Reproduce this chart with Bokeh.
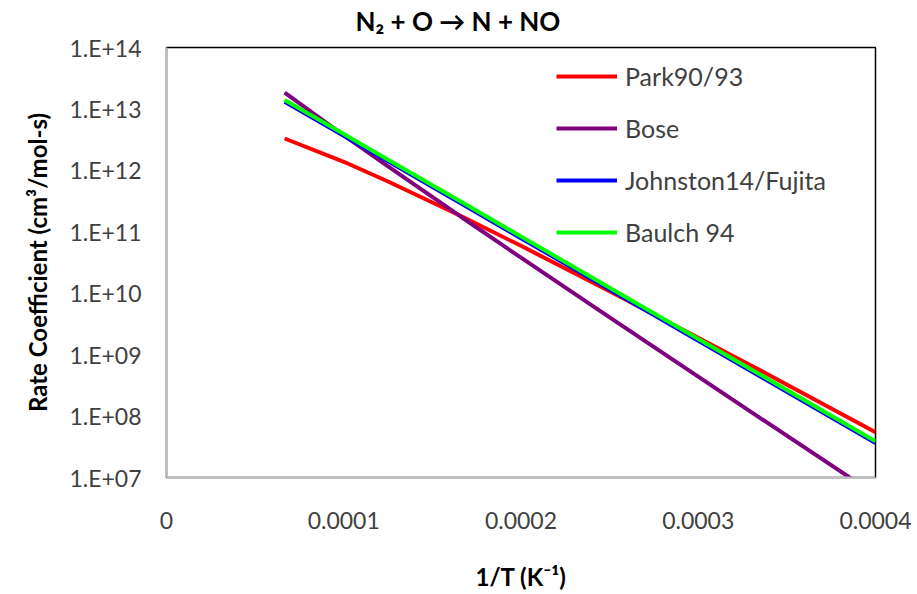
from bokeh.plotting import figure
from bokeh.models import (Range1d, FixedTicker, CustomJSTickFormatter, Legend, LegendItem, Label)
from bokeh.embed import file_html
from bokeh.resources import INLINE

# 1/T values (K^-1), T = 15000, 10000, 8000, 6000, 5000, 4000, 3000, 2500 K
inv_T = [6.667e-5, 1.0e-4, 1.25e-4, 1.667e-4, 2.0e-4, 2.5e-4, 3.333e-4, 4.0e-4]

park90_93 = [3.30e12, 1.38e12, 6.58e11, 1.77e11, 5.91e10, 1.08e10, 5.89e8, 5.47e7]
bose = [1.84e13, 3.72e12, 1.16e12, 1.71e11, 3.79e10, 4.04e9, 1.00e8, 5.27e6]
johnston14_fujita = [1.31e13, 3.64e12, 1.40e12, 2.82e11, 7.86e10, 1.15e10, 4.71e8, 3.65e7]
baulch94 = [1.40e13, 3.90e12, 1.49e12, 3.02e11, 8.40e10, 1.23e10, 5.04e8, 3.90e7]

series_names = ["Park90/93", "Bose", "Johnston14/Fujita", "Baulch 94"]
series_values = [park90_93, bose, johnston14_fujita, baulch94]
series_colors = ["#FF0000", "#800080", "#0000FF", "#00FF00"]

x_ticks = [0, 0.0001, 0.0002, 0.0003, 0.0004]
y_ticks = [1e7, 1e8, 1e9, 1e10, 1e11, 1e12, 1e13, 1e14]

FONT = "Lato"
TICK_COLOR = "#404040"

p = figure(width=917, height=594, output_backend="svg", toolbar_location=None,
           y_axis_type="log",
           x_range=Range1d(0, 0.0004), y_range=Range1d(1e7, 1e14),
           min_border_left=166, min_border_right=42, min_border_top=47, min_border_bottom=117)

p.background_fill_color = "white"
p.border_fill_color = "white"
p.outline_line_color = "black"
p.outline_line_width = 1.5
p.xgrid.visible = False
p.ygrid.visible = False

# chart title, placed in the panel above the frame
title = Label(x=189, y=27, x_units="screen", y_units="screen",
              text="N\u2082 + O \u2192 N + NO", text_align="left", text_baseline="middle",
              text_font=FONT, text_font_size="26px", text_font_style="bold",
              text_color="black")
p.add_layout(title, "above")

items = []
for name, vals, col in zip(series_names, series_values, series_colors):
    r = p.line(inv_T, vals, line_color=col, line_width=4)
    items.append(LegendItem(label=name, renderers=[r]))

legend = Legend(items=items, location=(390, 230), padding=0, margin=0,
                spacing=22, glyph_width=61, glyph_height=30, label_height=30,
                label_standoff=8, label_text_font=FONT, label_text_font_size="25px",
                label_text_color=TICK_COLOR, border_line_color=None,
                background_fill_alpha=0)
p.add_layout(legend, "center")

# axes
for ax in (p.xaxis[0], p.yaxis[0]):
    ax.axis_line_color = "#BFBFBF"
    ax.axis_line_width = 2
    ax.major_tick_line_color = None
    ax.minor_tick_line_color = None
    ax.major_tick_in = 0
    ax.major_tick_out = 0
    ax.major_label_text_font = FONT
    ax.major_label_text_font_size = "23px"
    ax.major_label_text_color = TICK_COLOR
    ax.axis_label_text_font = FONT
    ax.axis_label_text_font_size = "24px"
    ax.axis_label_text_font_style = "bold"
    ax.axis_label_text_color = "black"

p.xaxis.ticker = FixedTicker(ticks=x_ticks)
p.xaxis.formatter = CustomJSTickFormatter(code="return tick == 0 ? '0' : tick.toFixed(4);")
p.xaxis.major_label_standoff = 34
p.xaxis.axis_label = "1/T (K\u207B\u00B9)"
p.xaxis.axis_label_standoff = 30

p.yaxis.ticker = FixedTicker(ticks=y_ticks)
p.yaxis.formatter = CustomJSTickFormatter(
    code="var e = Math.round(Math.log10(tick)); return '1.E+' + (e < 10 ? '0' + e : '' + e);")
p.yaxis.major_label_standoff = 25
p.yaxis.axis_label = "Rate Coefficient (cm\u00B3/mol-s)"
p.yaxis.axis_label_standoff = 14

open("out.html", "w").write(file_html(p, INLINE))
